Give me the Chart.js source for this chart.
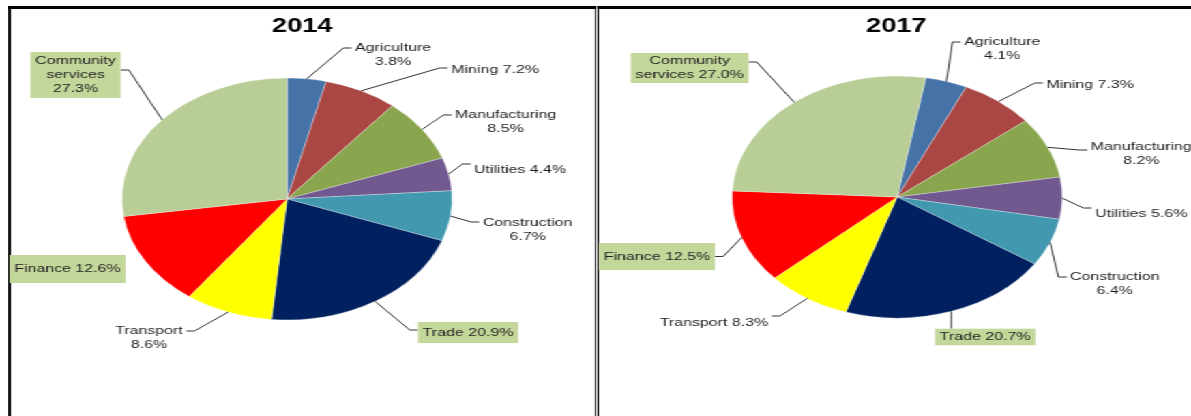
<!DOCTYPE html>
<html>
<head>
<meta charset="utf-8">
<script src="https://cdn.jsdelivr.net/npm/chart.js@4.4.1/dist/chart.umd.min.js"></script>
<style>
html, body { margin: 0; padding: 0; background: #fff; overflow: hidden; width: 1191px; height: 416px; }
/* the source picture is stretched sideways, so the whole stage is too */
#stage { position: absolute; left: 0; top: 0; width: 874px; height: 416px; transform: scaleX(1.3643); transform-origin: 0 0; }
.panel { position: absolute; top: 6px; height: 420px; box-sizing: border-box; border: solid #000; }
#p1 { left: 6px; width: 431px; border-width: 3px 1px 0 2px; }
#p2 { left: 438px; width: 450px; border-width: 3px 0 0 1px; }
canvas { position: absolute; top: 0; }
#c1 { left: 0; }
#c2 { left: 438px; }
</style>
</head>
<body>
<div id="stage">
  <div class="panel" id="p1"></div>
  <div class="panel" id="p2"></div>
  <canvas id="c1" width="437" height="416"></canvas>
  <canvas id="c2" width="436" height="416"></canvas>
</div>
<script>
const sectors = ['Agriculture', 'Mining', 'Manufacturing', 'Utilities', 'Construction',
                 'Trade', 'Transport', 'Finance', 'Community services'];
const share2014 = [3.8, 7.2, 8.5, 4.4, 6.7, 20.9, 8.6, 12.6, 27.3];
const share2017 = [4.1, 7.3, 8.2, 5.6, 6.4, 20.7, 8.3, 12.5, 27.0];
const years = ['2014', '2017'];

const colors = ['#4572A7', '#AA4643', '#89A54E', '#71588F', '#4198AF',
                '#002060', '#FFFF00', '#FF0000', '#B9CD96'];
const boxFill = '#C4D79B';

// label placement relative to pie centre: [dx, dy, leader side, leader dy, line mode, boxed, box padY]
const layout2014 = [
    [77.7, -144, 'l', -7, 'two', false, 0],
    [152.5, -129, 'l', -2, 'one', false, 0],
    [160.2, -77.5, 'l', -6.5, 'two', false, 0],
    [170.8, -29, 'l', -6, 'one', false, 0],
    [176.3, 30.5, 'l', -7.5, 'two', false, 0],
    [132.7, 133.5, 'l', -2.5, 'one', true, 3.5],
    [-101.2, 139, 'r', -7, 'two', false, 0],
    [-160.9, 70, 'n', 0, 'one', true, 7],
    [-155, -124, 'r', -5, 'three', true, 2]
];
const layout2017 = [
    [77, -148.5, 'l', -6.5, 'two', false, 0],
    [141.5, -112, 'l', -2, 'one', false, 0],
    [178.9, -43, 'l', -4, 'two', false, 0],
    [178.9, 17, 'l', -6, 'one', false, 0],
    [159.5, 86.5, 'l', -6.5, 'two', false, 0],
    [64.5, 140, 't', 0, 'one', true, 1.3],
    [-134.2, 126, 'r', -7, 'one', false, 0],
    [-176, 59.5, 'r', 0, 'one', true, 6.5],
    [-152.1, -129, 'r', -6, 'words', true, 1]
];

function labelLines(name, v, mode) {
    const pct = v.toFixed(1) + '%';
    if (mode === 'one') return [name + ' ' + pct];
    if (mode === 'two') return [name, pct];
    const w = name.split(' ');
    if (mode === 'three') return [w[0], w[1], pct];
    return [w[0], w[1] + ' ' + pct];
}

const pieLabels = {
    id: 'pieLabels',
    afterDatasetsDraw(chart, args, opts) {
        const ctx = chart.ctx;
        const meta = chart.getDatasetMeta(0);
        const values = chart.data.datasets[0].data;
        ctx.save();
        ctx.font = 'bold 20px "Liberation Sans", Arial, sans-serif';
        ctx.fillStyle = '#000';
        ctx.textAlign = 'center';
        ctx.textBaseline = 'alphabetic';
        ctx.fillText(opts.title, opts.titleX, 32);

        ctx.font = '11.7px "Liberation Sans", Arial, sans-serif';
        ctx.textBaseline = 'middle';
        const lh = 14;
        meta.data.forEach((el, i) => {
            const arc = el.getProps(['x', 'y', 'startAngle', 'endAngle', 'outerRadius'], true);
            const [dx, dy, side, attachDy, mode, boxed, padY] = opts.layout[i];
            const lines = labelLines(chart.data.labels[i], values[i], mode);
            const w = Math.max(...lines.map(t => ctx.measureText(t).width));
            const cx = arc.x + dx, cy = arc.y + dy;
            const padX = boxed ? 3.5 : 2.5;
            const bw = w + 2 * padX;
            const bh = lines.length * lh + 2 * (boxed ? padY : 0);
            const left = cx - bw / 2, top = cy - bh / 2;

            const mid = (arc.startAngle + arc.endAngle) / 2;
            const ax = arc.x + arc.outerRadius * Math.cos(mid);
            const ay = arc.y + arc.outerRadius * Math.sin(mid);
            ctx.strokeStyle = '#333';
            ctx.lineWidth = 1;
            if (side === 'l' || side === 'r') {
                const ex = side === 'l' ? left : left + bw;
                const ey = cy + attachDy;
                const kx = ex + (side === 'l' ? -6 : 6);
                ctx.beginPath();
                ctx.moveTo(ax, ay);
                ctx.lineTo(kx, ey);
                ctx.lineTo(ex, ey);
                ctx.stroke();
            } else if (side === 't') {
                ctx.beginPath();
                ctx.moveTo(ax, ay);
                ctx.lineTo(ax, top);
                ctx.stroke();
            }
            if (boxed) {
                ctx.fillStyle = boxFill;
                ctx.fillRect(left, top, bw, bh);
            }
            ctx.fillStyle = '#1e1e1e';
            lines.forEach((t, k) => ctx.fillText(t, cx, cy + (k - (lines.length - 1) / 2) * lh));
        });
        ctx.restore();
    }
};

function makePie(id, values, rotation, padding, title, titleX, layout) {
    return new Chart(document.getElementById(id), {
        type: 'pie',
        data: {
            labels: sectors,
            datasets: [{
                data: values,
                backgroundColor: colors,
                borderColor: 'rgba(255,255,255,0.5)',
                borderWidth: 0.6
            }]
        },
        options: {
            responsive: false,
            animation: false,
            events: [],
            rotation: rotation,
            radius: 121,
            layout: { padding: padding },
            plugins: {
                legend: { display: false },
                tooltip: { enabled: false },
                title: { display: false },
                pieLabels: { title: title, titleX: titleX, layout: layout }
            }
        },
        plugins: [pieLabels]
    });
}

makePie('c1', share2014, 0, { left: 89.4, right: 105.6, top: 78, bottom: 96 }, years[0], 221.5, layout2014);
makePie('c2', share2017, 10, { left: 98.6, right: 95.4, top: 76, bottom: 98 }, years[1], 219, layout2017);
</script>
</body>
</html>
